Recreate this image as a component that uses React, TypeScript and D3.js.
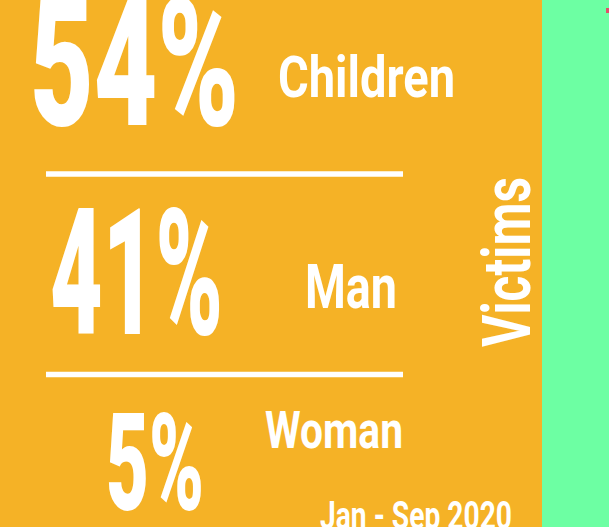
import React from "react";
import * as d3 from "d3";

const percentages = [54, 41, 5];
const groups = ["Children", "Man", "Woman"];
const title = "Victims";
const period = "Jan - Sep 2020";

// layout (positions/sizes), separate from data
const numLayout = [
  { x: 30, base: 125, fs: 179, w: 209 },
  { x: 50, base: 334, fs: 177, w: 173 },
  { x: 106, base: 510, fs: 136, w: 98 },
];
const labelLayout = [
  { x: 278, base: 97, fs: 58, w: 177 },
  { x: 305, base: 308, fs: 62, w: 92 },
  { x: 265, base: 448, fs: 52, w: 138 },
];
const dividers = [174, 374.5];

const W = 609;
const H = 527;
const ORANGE = "#F5B226";
const GREEN = "#6DFFA3";
const FONT = "Roboto, 'Liberation Sans', sans-serif";

export default function App() {
  const fmt = d3.format("d");
  const xPanel = d3.scaleLinear().domain([0, 1]).range([0, W]);
  const split = 542;
  return (
    <svg
      width={W}
      height={H}
      style={{ position: "absolute", left: 0, top: 0, display: "block" }}
    >
      <rect x={0} y={0} width={split} height={H} fill={ORANGE} />
      <rect x={split} y={0} width={xPanel(1) - split} height={H} fill={GREEN} />
      <rect x={606} y={8} width={3} height={5} fill="#E0506A" />
      {dividers.map((y, i) => (
        <line key={i} x1={46} x2={403} y1={y} y2={y} stroke="#fff" strokeWidth={5.5} />
      ))}
      {percentages.map((p, i) => (
        <text
          key={"n" + i}
          x={numLayout[i].x}
          y={numLayout[i].base}
          fontFamily={FONT}
          fontWeight={900}
          fontSize={numLayout[i].fs}
          fill="#fff"
          textLength={numLayout[i].w}
          lengthAdjust="spacingAndGlyphs"
        >
          {fmt(p) + "%"}
        </text>
      ))}
      {groups.map((g, i) => (
        <text
          key={"l" + i}
          x={labelLayout[i].x}
          y={labelLayout[i].base}
          fontFamily={FONT}
          fontWeight={700}
          fontSize={labelLayout[i].fs}
          fill="#fff"
          textLength={labelLayout[i].w}
          lengthAdjust="spacingAndGlyphs"
        >
          {g}
        </text>
      ))}
      <text
        transform="translate(530,262) rotate(-90)"
        textAnchor="middle"
        fontFamily={FONT}
        fontWeight={700}
        fontSize={67}
        fill="#fff"
        textLength={170}
        lengthAdjust="spacingAndGlyphs"
      >
        {title}
      </text>
      <text
        x={320}
        y={529}
        fontFamily={FONT}
        fontWeight={700}
        fontSize={38}
        fill="#fff"
        textLength={192}
        lengthAdjust="spacingAndGlyphs"
      >
        {period}
      </text>
    </svg>
  );
}
